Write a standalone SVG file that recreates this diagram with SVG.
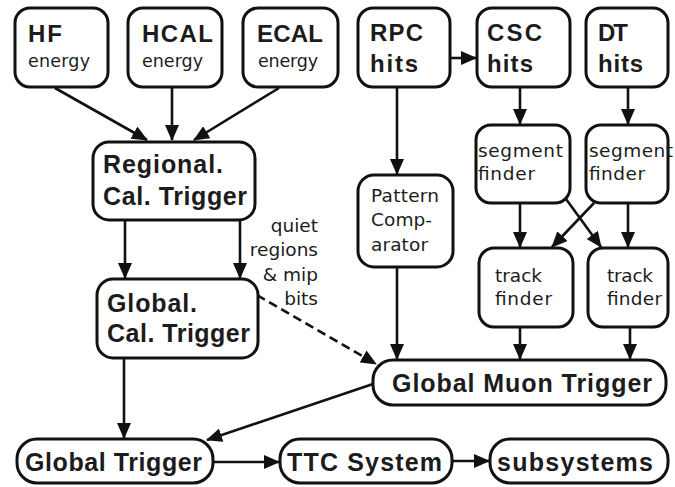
<svg xmlns="http://www.w3.org/2000/svg" width="675" height="487" viewBox="0 0 675 487">
<style>
.box{fill:#fff;stroke:#111;stroke-width:3}
.t{font-family:"Liberation Sans",Arial,sans-serif;fill:#1c1c1c}
.b{font-weight:bold;font-size:24px}
.bb{font-weight:bold;font-size:25px}
.s{font-family:"DejaVu Sans","Liberation Sans",sans-serif;font-size:18.5px}
.e{font-family:"DejaVu Sans","Liberation Sans",sans-serif;font-size:17.5px}
.c{stroke:#111;stroke-width:2.6;fill:none;marker-end:url(#ah)}
.d{stroke-dasharray:9 5}
</style>
<defs>
<marker id="ah" markerUnits="userSpaceOnUse" markerWidth="16" markerHeight="14" refX="15" refY="7" orient="auto">
<path d="M0,0 L16,7 L0,14 Z" fill="#111"/>
</marker>
</defs>
<rect width="675" height="487" fill="#fff"/>
<g id="connectors">
<line class="c" x1="55" y1="88" x2="147" y2="140"/>
<line class="c" x1="172" y1="88" x2="172" y2="140"/>
<line class="c" x1="279" y1="88" x2="194" y2="140"/>
<line class="c" x1="125" y1="220" x2="125" y2="278"/>
<line class="c" x1="240" y1="220" x2="240" y2="278"/>
<line class="c" x1="124" y1="358" x2="124" y2="438"/>
<line class="c d" x1="257" y1="295" x2="376" y2="364"/>
<line class="c" x1="397" y1="87" x2="397" y2="174"/>
<line class="c" x1="450" y1="58" x2="476" y2="58"/>
<line class="c" x1="520" y1="87" x2="520" y2="124"/>
<line class="c" x1="628" y1="87" x2="628" y2="124"/>
<line class="c" x1="520" y1="203" x2="520" y2="247"/>
<line class="c" x1="628" y1="203" x2="628" y2="247"/>
<line class="c" x1="566" y1="199" x2="601" y2="247"/>
<line class="c" x1="594" y1="203" x2="552" y2="247"/>
<line class="c" x1="397" y1="267" x2="397" y2="359"/>
<line class="c" x1="520" y1="327" x2="520" y2="359"/>
<line class="c" x1="630" y1="327" x2="630" y2="359"/>
<line class="c" x1="373" y1="384" x2="207" y2="440"/>
<line class="c" x1="213" y1="462" x2="279" y2="462"/>
<line class="c" x1="452" y1="461" x2="489" y2="461"/>
</g>
<g id="hf"><rect class="box" x="15" y="8" width="93" height="79" rx="15"/>
<text class="t b" x="28" y="42" textLength="34">HF</text>
<text class="t e" x="28" y="67" textLength="62">energy</text></g>
<g id="hcal"><rect class="box" x="128" y="8" width="94" height="79" rx="15"/>
<text class="t b" x="142" y="42" textLength="71">HCAL</text>
<text class="t e" x="142" y="67" textLength="61">energy</text></g>
<g id="ecal"><rect class="box" x="243" y="8" width="95" height="79" rx="15"/>
<text class="t b" x="257" y="42" textLength="66">ECAL</text>
<text class="t e" x="258" y="67" textLength="60">energy</text></g>
<g id="rpc"><rect class="box" x="358" y="8" width="92" height="79" rx="15"/>
<text class="t b" x="370" y="41" textLength="53">RPC</text>
<text class="t b" x="370" y="72" textLength="48">hits</text></g>
<g id="csc"><rect class="box" x="477" y="8" width="93" height="79" rx="15"/>
<text class="t b" x="487" y="41" textLength="55">CSC</text>
<text class="t b" x="487" y="72" textLength="46">hits</text></g>
<g id="dt"><rect class="box" x="586" y="8" width="82" height="79" rx="15"/>
<text class="t b" x="598" y="41" textLength="30">DT</text>
<text class="t b" x="598" y="72" textLength="45">hits</text></g>
<g id="regional"><rect class="box" x="93" y="142" width="162" height="78" rx="16"/>
<text class="t bb" x="103" y="173" textLength="120">Regional.</text>
<text class="t bb" x="103" y="205" textLength="144">Cal. Trigger</text></g>
<g id="globalcal"><rect class="box" x="97" y="279" width="161" height="79" rx="16"/>
<text class="t bb" x="107" y="312" textLength="90">Global.</text>
<text class="t bb" x="107" y="342" textLength="143">Cal. Trigger</text></g>
<g id="quiet-label">
<text class="t s" x="318" y="232" text-anchor="end">quiet</text>
<text class="t s" x="318" y="256" text-anchor="end">regions</text>
<text class="t s" x="318" y="281" text-anchor="end">&amp; mip</text>
<text class="t s" x="318" y="305" text-anchor="end">bits</text></g>
<g id="pattern"><rect class="box" x="358" y="175" width="95" height="92" rx="16"/>
<text class="t s" x="371" y="202" textLength="68">Pattern</text>
<text class="t s" x="371" y="226" textLength="61">Comp-</text>
<text class="t s" x="371" y="251" textLength="57">arator</text></g>
<g id="seg1"><rect class="box" x="476" y="125" width="94" height="78" rx="15"/>
<text class="t s" x="478" y="157" textLength="85">segment</text>
<text class="t s" x="478" y="180" textLength="57">finder</text></g>
<g id="seg2"><rect class="box" x="586" y="125" width="82" height="78" rx="15"/>
<text class="t s" x="589" y="157" textLength="84">segment</text>
<text class="t s" x="589" y="180" textLength="56">finder</text></g>
<g id="track1"><rect class="box" x="479" y="248" width="94" height="79" rx="15"/>
<text class="t s" x="495" y="282" textLength="47">track</text>
<text class="t s" x="495" y="305" textLength="57">finder</text></g>
<g id="track2"><rect class="box" x="588" y="248" width="80" height="79" rx="15"/>
<text class="t s" x="607" y="282" textLength="46">track</text>
<text class="t s" x="607" y="305" textLength="55">finder</text></g>
<g id="gmt"><rect class="box" x="373" y="360" width="293" height="45" rx="20"/>
<text class="t bb" x="392" y="392" textLength="260">Global Muon Trigger</text></g>
<g id="gt"><rect class="box" x="17" y="439" width="196" height="44" rx="20"/>
<text class="t bb" x="25" y="471" textLength="177">Global Trigger</text></g>
<g id="ttc"><rect class="box" x="280" y="439" width="172" height="44" rx="20"/>
<text class="t bb" x="287" y="471" textLength="155">TTC System</text></g>
<g id="subsystems"><rect class="box" x="490" y="439" width="178" height="44" rx="20"/>
<text class="t bb" x="497" y="471" textLength="156">subsystems</text></g>
</svg>
